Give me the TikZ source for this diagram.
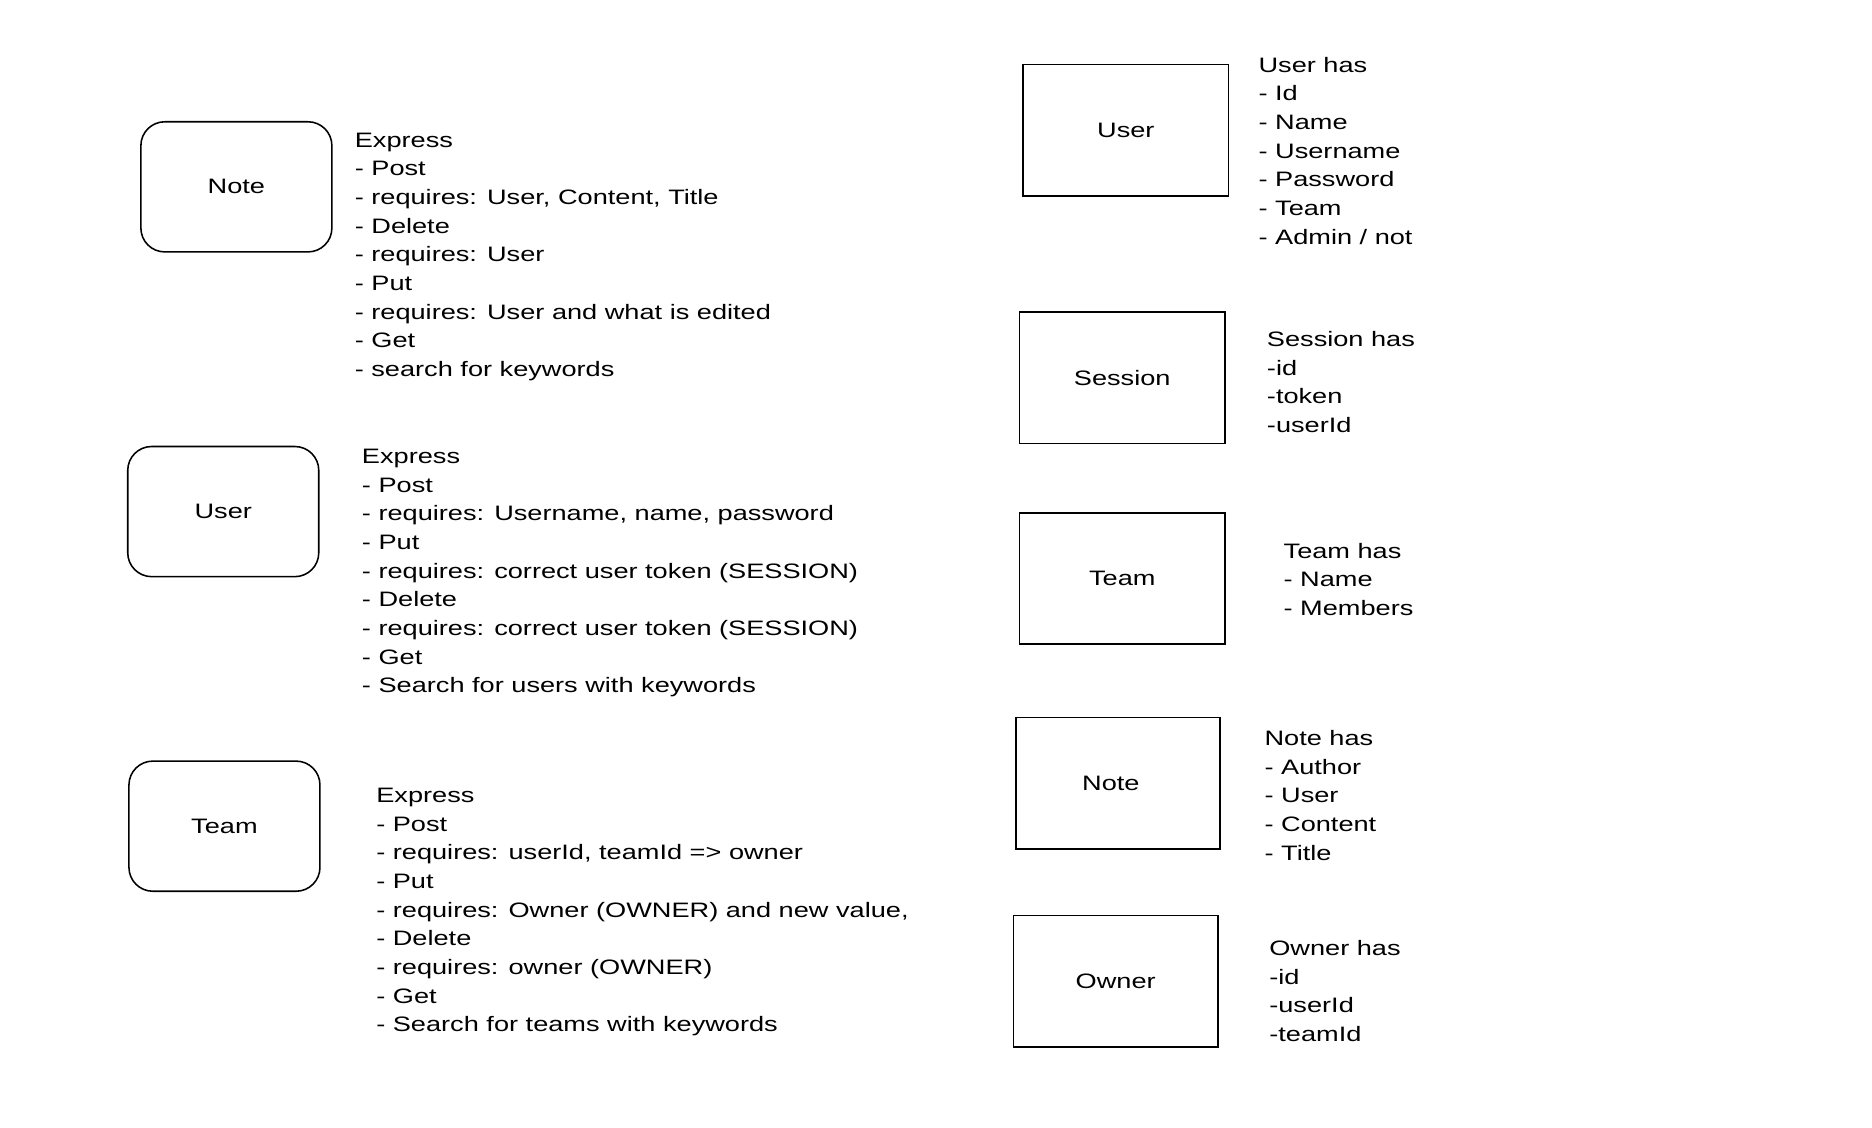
\documentclass[tikz,border=0pt]{standalone}
\usepackage{fontspec}
\setmainfont{Liberation Sans}[FakeStretch=1.3]
\begin{document}
\begin{tikzpicture}[x=1pt,y=-1pt,
  every node/.style={font=\fontsize{17.5}{24}\selectfont},
  rbox/.style={draw, line width=1.3pt, rounded corners=20pt, minimum width=160pt, minimum height=109pt, inner sep=0pt},
  sbox/.style={draw, line width=1.3pt, minimum width=172pt, minimum height=110pt, inner sep=0pt},
  desc/.style={anchor=north west, align=left, inner sep=0pt}]
\useasboundingbox (0,0) rectangle (1568,944);
% left column
\node[rbox] (noteR) at (198,156.5) {Note};
\node[desc] (noteT) at (297,111) {Express\\- Post\\- requires: User, Content, Title\\- Delete\\- requires: User\\- Put\\- requires: User and what is edited\\- Get\\- search for keywords};
\node[rbox] (userR) at (187,428.5) {User};
\node[desc] (userT) at (303,376) {Express\\- Post\\- requires: Username, name, password\\- Put\\- requires: correct user token (SESSION)\\- Delete\\- requires: correct user token (SESSION)\\- Get\\- Search for users with keywords};
\node[rbox] (teamR) at (188,692) {Team};
\node[desc] (teamT) at (315,660) {Express\\- Post\\- requires: userId, teamId => owner\\- Put\\- requires: Owner (OWNER) and new value,\\- Delete\\- requires: owner (OWNER)\\- Get\\- Search for teams with keywords};
% right column
\node[sbox] (userS) at (943,109) {User};
\node[desc] (userH) at (1054,47.5) {User has\\- Id\\- Name\\- Username\\- Password\\- Team\\- Admin / not};
\node[sbox] (sessS) at (940,316.5) {Session};
\node[desc] (sessH) at (1061,277.5) {Session has\\-id\\-token\\-userId};
\node[sbox] (teamS) at (940,484.5) {Team};
\node[desc] (teamH) at (1075,454.5) {Team has\\- Name\\- Members};
\node[sbox, minimum width=171pt] (noteS) at (936.5,656) {\hspace*{-12pt}Note};
\node[desc] (noteH) at (1059,611.5) {Note has\\- Author\\- User\\- Content\\- Title};
\node[sbox, minimum width=171pt] (ownS) at (934.5,822) {Owner};
\node[desc] (ownH) at (1063,787.5) {Owner has\\-id\\-userId\\-teamId};
\end{tikzpicture}
\end{document}
